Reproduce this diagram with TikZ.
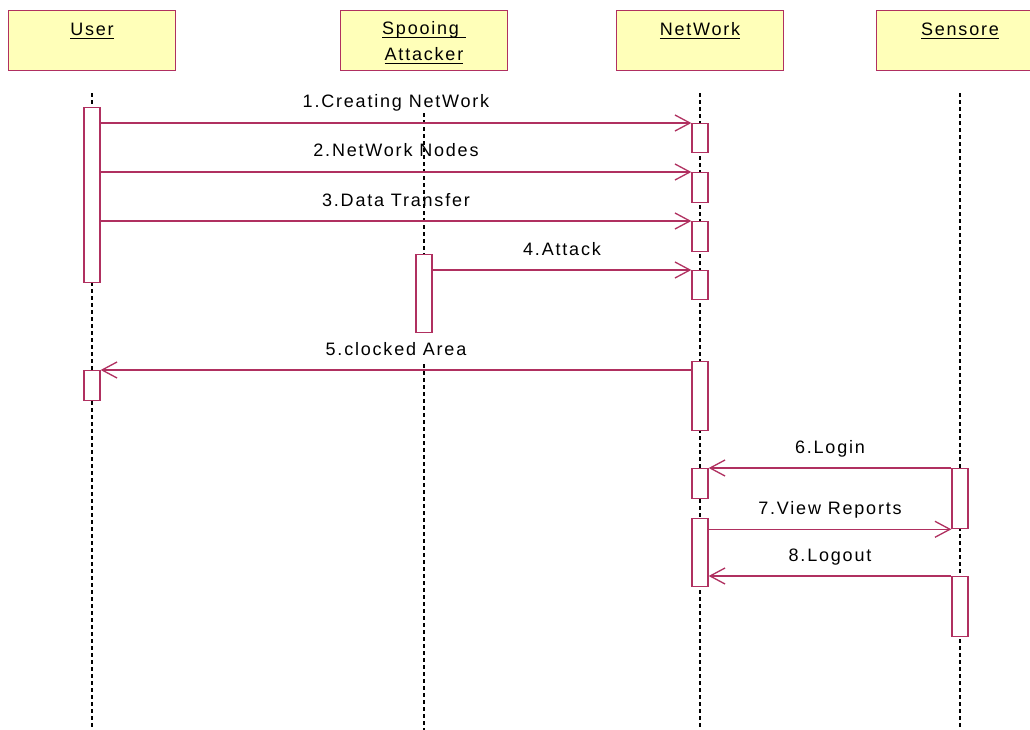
\documentclass[tikz,border=0pt]{standalone}
\usepackage{fontspec}
\setmainfont{Liberation Sans}[LetterSpace=10]
\usetikzlibrary{arrows.meta}
\definecolor{umlline}{HTML}{B03060}
\definecolor{umlfill}{HTML}{FFFFB9}
% underlined object name at a fixed distance below the baseline
\newcommand\ulbox[1]{\setbox0\hbox{#1}\rlap{\rule[-3pt]{\wd0}{1pt}}\box0}
\begin{document}
\begin{tikzpicture}[x=1pt,y=-1pt,
  font=\fontsize{18pt}{27pt}\selectfont,
  objbox/.style={draw=umlline,fill=umlfill,line width=1.3pt,rectangle,
    minimum width=167pt,minimum height=60pt,inner sep=0pt,anchor=north},
  objname/.style={anchor=base,inner sep=0pt},
  lifeline/.style={draw=black,line width=1.1pt,dash pattern=on 4pt off 3pt},
  actbox/.style={draw=umlline,fill=white,line width=1.3pt,rectangle,
    minimum width=16pt,inner sep=0pt,anchor=north},
  msg/.style={draw=umlline,line width=1.3pt,
    -{Straight Barb[length=15pt,width=16pt,line width=1.3pt]}},
  msglabel/.style={anchor=base,inner sep=0pt,yshift=15pt}]
\useasboundingbox (0,0) rectangle (1030,730);
\clip (0,0) rectangle (1030,730);
\fill[white] (0,0) rectangle (1030,730);

% object heads
\node[objbox] (user) at (92,10) {};
\node[objbox] (atk)  at (424,10) {};
\node[objbox] (net)  at (700,10) {};
\node[objbox] (sen)  at (960,10) {};
\node[objname] (userlbl) at ([yshift=-26pt]user.north) {\ulbox{User}};
\node[objname] (atklbl1) at ([yshift=-25pt]atk.north) {\ulbox{Spooing\ }};
\node[objname] (atklbl2) at ([yshift=-51pt]atk.north) {\ulbox{Attacker}};
\node[objname] (netlbl)  at ([yshift=-26pt]net.north) {\ulbox{NetWork}};
\node[objname] (senlbl)  at ([yshift=-26pt]sen.north) {\ulbox{Sensore}};

% lifelines
\coordinate (bottom) at (0,730);
\foreach \o in {user,net,sen}
  \draw[lifeline] ([yshift=-22pt]\o.south) -- (\o.south |- bottom);
\coordinate (atkresume) at (424,364);
\draw[lifeline] ([yshift=-42pt]atk.south) -- (atk.south |- 0,254);
\draw[lifeline] (atkresume) -- (atk.south |- bottom);

% activation boxes
\node[actbox,minimum height=175pt] (u1) at (92,107) {};
\node[actbox,minimum height=30pt]  (u2) at (92,370) {};
\node[actbox,minimum height=78pt]  (a1) at (424,254) {};
\node[actbox,minimum height=29pt]  (n1) at (700,123) {};
\node[actbox,minimum height=30pt]  (n2) at (700,172) {};
\node[actbox,minimum height=30pt]  (n3) at (700,221) {};
\node[actbox,minimum height=29pt]  (n4) at (700,270) {};
\node[actbox,minimum height=69pt]  (n5) at (700,361) {};
\node[actbox,minimum height=30pt]  (n6) at (700,468) {};
\node[actbox,minimum height=68pt]  (n7) at (700,518) {};
\node[actbox,minimum height=60pt]  (s1) at (960,468) {};
\node[actbox,minimum height=60pt]  (s2) at (960,576) {};

% messages
\draw[msg] (u1.east |- n1.north) -- coordinate (m1) (n1.north west);
\draw[msg] (u1.east |- n2.north) -- coordinate (m2) (n2.north west);
\draw[msg] (u1.east |- n3.north) -- coordinate (m3) (n3.north west);
\draw[msg] (a1.east |- n4.north) -- coordinate (m4) (n4.north west);
\draw[msg] (n5.west |- u2.north) -- coordinate (m5) (u2.north east);
\draw[msg] (s1.north west) -- coordinate (m6) (n6.north east);
\draw[msg] (n7.east |- s1.south) -- coordinate (m7) (s1.south west);
\draw[msg] (s2.north west) -- coordinate (m8) (n7.east |- s2.north);

\node[msglabel] (l1) at (m1) {1.Creating NetWork};
\node[msglabel] (l2) at (m2) {2.NetWork Nodes};
\node[msglabel] (l3) at (m3) {3.Data Transfer};
\node[msglabel] (l4) at (m4) {4.Attack};
\node[msglabel] (l5) at (m5) {5.clocked Area};
\node[msglabel] (l6) at (m6) {6.Login};
\node[msglabel] (l7) at (m7) {7.View Reports};
\node[msglabel] (l8) at (m8) {8.Logout};
\end{tikzpicture}
\end{document}
